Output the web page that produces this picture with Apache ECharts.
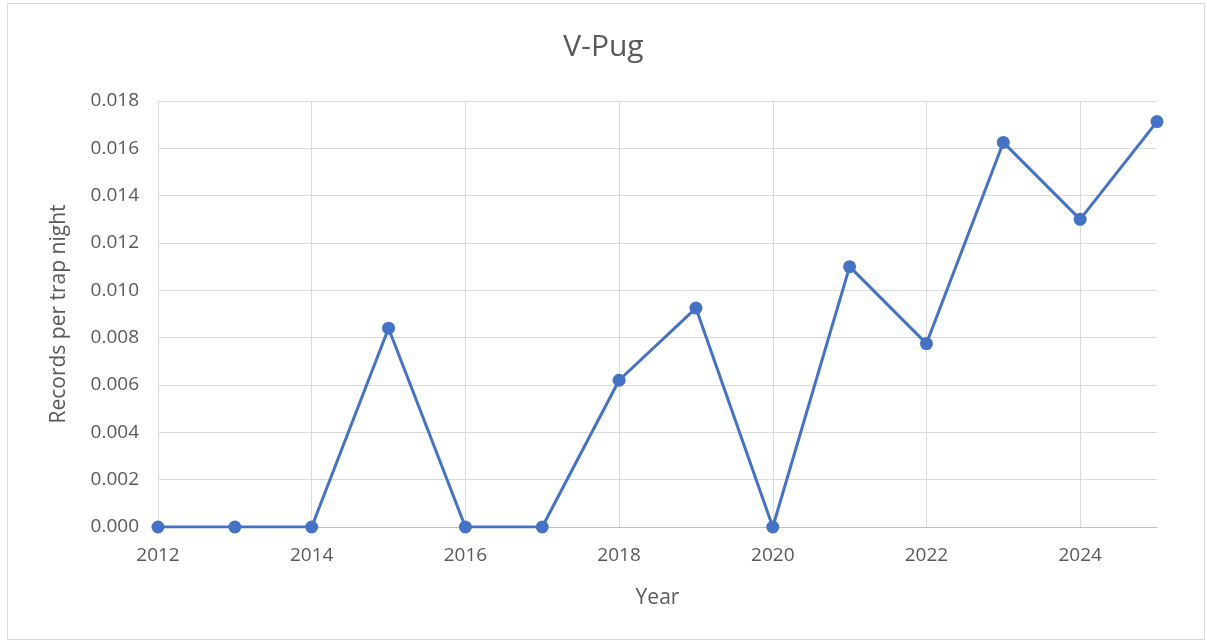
<!DOCTYPE html>
<html><head><meta charset="utf-8">
<script src="https://cdn.jsdelivr.net/npm/echarts@6/dist/echarts.min.js"></script>
<style>html,body{margin:0;padding:0;background:#fff}#c{width:1207px;height:643px}</style>
</head><body><div id="c"></div>
<script>
const years = [2012,2013,2014,2015,2016,2017,2018,2019,2020,2021,2022,2023,2024,2025];
const values = [0,0,0,0.0084,0,0,0.0062,0.00925,0,0.0110,0.00775,0.01625,0.0130,0.01713];
const titleText = 'V-Pug';
const xName = 'Year';
const yName = 'Records per trap night';

const chart = echarts.init(document.getElementById('c'), null, {renderer:'canvas'});
const font = '"Open Sans", Calibri, "Liberation Sans", sans-serif';
chart.setOption({
  animation:false,
  backgroundColor:'#fff',
  graphic:[{type:'rect',shape:{x:7.5,y:3.5,width:1197,height:636},style:{fill:'none',stroke:'#d9d9d9',lineWidth:1},silent:true}],
  title:{text:titleText,left:'center',top:27,textStyle:{fontFamily:font,fontSize:30,fontWeight:'normal',color:'#595959'}},
  grid:{left:158,right:50,top:101,bottom:116,containLabel:false},
  xAxis:{type:'value',min:2012,max:2025,interval:2,
    name:xName,nameLocation:'middle',nameGap:61,
    nameTextStyle:{fontFamily:font,fontSize:21,color:'#595959'},
    axisLine:{show:true,lineStyle:{color:'#bfbfbf',width:1}},
    axisTick:{show:false},
    axisLabel:{showMaxLabel:false,margin:19,fontFamily:font,fontSize:19,color:'#595959',formatter:v=>String(v)},
    splitLine:{show:true,showMaxLine:false,lineStyle:{color:'#d9d9d9',width:1}}},
  yAxis:{type:'value',min:0,max:0.018,interval:0.002,
    name:yName,nameLocation:'middle',nameGap:88,
    nameTextStyle:{fontFamily:font,fontSize:21,color:'#595959'},
    axisLine:{show:false},axisTick:{show:false},
    axisLabel:{margin:19,fontFamily:font,fontSize:19,color:'#595959',formatter:v=>v.toFixed(3)},
    splitLine:{show:true,lineStyle:{color:'#d9d9d9',width:1}}},
  series:[{type:'line',data:years.map((y,i)=>[y,values[i]]),
    symbol:'circle',symbolSize:13,
    lineStyle:{color:'#4472C4',width:3},
    itemStyle:{color:'#4472C4'},z:3}]
});
</script></body></html>
